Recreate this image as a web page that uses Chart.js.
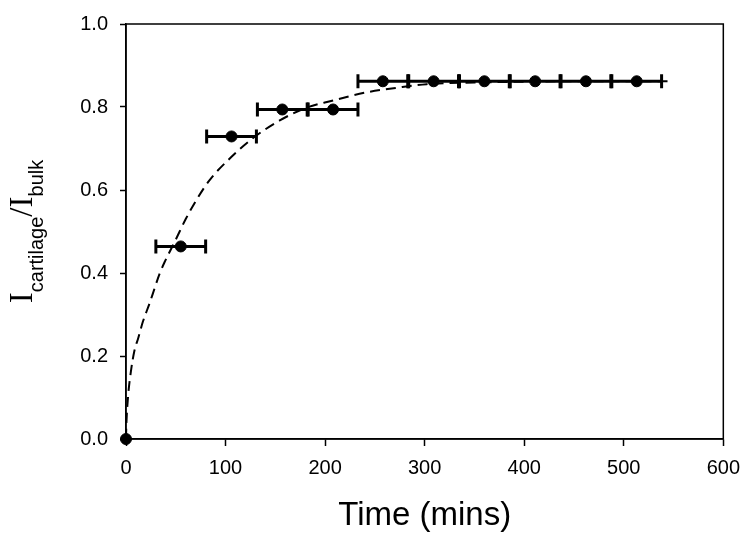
<!DOCTYPE html>
<html>
<head>
<meta charset="utf-8">
<script src="https://cdn.jsdelivr.net/npm/chart.js@4"></script>
<style>
  html, body { margin: 0; padding: 0; background: #fff; }
  #wrap { width: 750px; height: 540px; }
</style>
</head>
<body>
<div id="wrap"><canvas id="fit-chart" width="750" height="540"></canvas></div>
<script>
// measured points
var timeMins = [0, 55, 106, 157, 208, 258, 309, 360, 411, 462, 513];
var ratio = [0, 0.464, 0.729, 0.794, 0.794, 0.862, 0.862, 0.862, 0.862, 0.862, 0.862];
var timeErr = [0, 25, 25, 25, 25, 25, 25, 25, 25, 25, 25];

// dashed fit line
var fitT = [0, 0.3, 2, 5, 8.4, 12.4, 17, 23.7, 28.7, 33.7, 38.7, 45.3, 50.3, 60, 71, 84, 106, 127, 154, 181, 207, 241, 274, 302, 350, 400, 450, 549];
var fitY = [0, 0.03, 0.10, 0.164, 0.212, 0.244, 0.283, 0.327, 0.363, 0.398, 0.426, 0.458, 0.482, 0.53, 0.577, 0.624, 0.68, 0.724, 0.767, 0.798, 0.815, 0.835, 0.847, 0.855, 0.859, 0.861, 0.862, 0.862];

var xTicks = [0, 100, 200, 300, 400, 500, 600];
var yTicks = [0.0, 0.2, 0.4, 0.6, 0.8, 1.0];

var sans = "'Liberation Sans', Arial, sans-serif";
var serif = "'Liberation Serif', 'Times New Roman', serif";

var fitData = [];
for (var i = 0; i < fitT.length; i++) {
    fitData.push({x: fitT[i], y: fitY[i]});
}

var pointData = [];
for (var i = 0; i < timeMins.length; i++) {
    pointData.push({x: timeMins[i], y: ratio[i]});
}

var datasets = [];

datasets.push({
    type: "line",
    label: "fit",
    data: fitData,
    borderColor: "#000",
    borderWidth: 2,
    borderDash: [10, 6],
    pointRadius: 0,
    cubicInterpolationMode: "monotone",
    fill: false,
    order: 3
});

// one small line per error bar, caps drawn as rotated line points
for (var i = 0; i < timeMins.length; i++) {
    if (timeErr[i] == 0) continue;
    datasets.push({
        type: "line",
        label: "err" + i,
        data: [{x: timeMins[i] - timeErr[i], y: ratio[i]}, {x: timeMins[i] + timeErr[i], y: ratio[i]}],
        borderColor: "#000",
        borderWidth: 3,
        pointStyle: "line",
        rotation: 90,
        pointRadius: 7,
        pointBorderWidth: 3,
        pointBorderColor: "#000",
        pointHoverRadius: 7,
        fill: false,
        order: 2
    });
}

datasets.push({
    type: "scatter",
    label: "data",
    data: pointData,
    backgroundColor: "#000",
    borderColor: "#000",
    pointRadius: 5.5,
    clip: false,
    order: 1
});

var boxAndTitle = {
    id: "boxAndTitle",
    beforeDatasetsDraw: function(chart) {
        var ctx = chart.ctx;
        var a = chart.chartArea;
        ctx.save();
        ctx.strokeStyle = "#000";
        ctx.lineWidth = 1.5;
        ctx.strokeRect(a.left, a.top, a.right - a.left, a.bottom - a.top);
        ctx.restore();
    },
    afterDraw: function(chart) {
        var ctx = chart.ctx;
        var a = chart.chartArea;
        ctx.save();
        // y title with subscripts, rotated
        var parts = [
            {t: "I", f: "33px " + serif, dy: 0},
            {t: "cartilage", f: "20px " + sans, dy: 11},
            {t: "/I", f: "33px " + serif, dy: 0},
            {t: "bulk", f: "20px " + sans, dy: 11}
        ];
        var total = 0;
        for (var i = 0; i < parts.length; i++) {
            ctx.font = parts[i].f;
            parts[i].w = ctx.measureText(parts[i].t).width;
            total += parts[i].w;
        }
        ctx.translate(32, (a.top + a.bottom) / 2);
        ctx.rotate(-Math.PI / 2);
        ctx.fillStyle = "#000";
        ctx.textBaseline = "alphabetic";
        var x = -total / 2;
        for (var i = 0; i < parts.length; i++) {
            ctx.font = parts[i].f;
            ctx.fillText(parts[i].t, x, parts[i].dy);
            x += parts[i].w;
        }
        ctx.restore();
    }
};

var ctx = document.getElementById("fit-chart");

var chart = new Chart(ctx, {
    data: {datasets: datasets},
    plugins: [boxAndTitle],
    options: {
        responsive: false,
        animation: false,
        events: [],
        layout: {padding: {top: 19, right: 24, left: 0, bottom: 0}},
        plugins: {
            legend: {display: false},
            tooltip: {enabled: false}
        },
        scales: {
            x: {
                type: "linear",
                min: 0,
                max: 600,
                afterBuildTicks: function(scale) {
                    scale.ticks = xTicks.map(function(v) { return {value: v}; });
                },
                afterFit: function(scale) { scale.height = 101; },
                border: {display: true, color: "#000", width: 1.5},
                grid: {drawOnChartArea: false, drawTicks: true, tickLength: 7, tickColor: "#000", tickWidth: 1.5},
                ticks: {
                    color: "#000",
                    font: {family: sans, size: 20},
                    padding: 10,
                    maxRotation: 0
                },
                title: {
                    display: true,
                    text: "Time (mins)",
                    color: "#000",
                    font: {family: sans, size: 33},
                    padding: {top: 8}
                }
            },
            y: {
                type: "linear",
                min: 0,
                max: 1,
                afterBuildTicks: function(scale) {
                    scale.ticks = yTicks.map(function(v) { return {value: v}; });
                },
                afterFit: function(scale) { scale.width = 126; },
                border: {display: true, color: "#000", width: 1.5},
                grid: {drawOnChartArea: false, drawTicks: true, tickLength: 6, tickColor: "#000", tickWidth: 1.5},
                ticks: {
                    color: "#000",
                    font: {family: sans, size: 20},
                    padding: 12,
                    callback: function(v) { return Number(v).toFixed(1); }
                }
            }
        }
    }
});
</script>
</body>
</html>
